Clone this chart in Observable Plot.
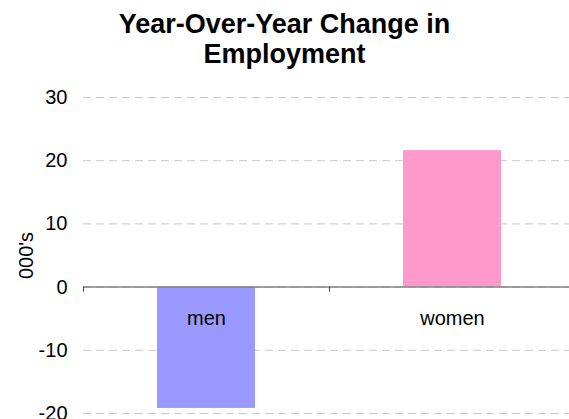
<!DOCTYPE html>
<html>
<head>
<meta charset="utf-8">
<script src="https://cdn.jsdelivr.net/npm/d3@7"></script>
<script src="https://cdn.jsdelivr.net/npm/@observablehq/plot@0.6"></script>
<style>
  html, body { margin: 0; padding: 0; background: #fff; overflow: hidden; width: 569px; height: 419px; }
  #title { width: 569px; text-align: center; font-family: "Liberation Sans", Arial, sans-serif; font-weight: bold; font-size: 27px; line-height: 30px; padding-top: 9px; color: #000; }
  #chart svg { display: block; max-width: none !important; }
</style>
</head>
<body>
<div id="title">Year-Over-Year Change in<br>Employment</div>
<div id="chart"></div>
<script>
const categories = ["men", "women"];
const values = [-19.2, 21.6];
const colors = ["#9999ff", "#ff99cc"];
const yTicks = [-20, -10, 0, 10, 20, 30];
const yLabel = "000's";

const data = categories.map((c, i) => ({category: c, value: values[i], color: colors[i]}));

const chart = Plot.plot({
  width: 575,
  height: 350,
  marginTop: 28,
  marginBottom: 6,
  marginLeft: 83,
  marginRight: 0,
  style: {fontFamily: "'Liberation Sans', Arial, sans-serif", fontSize: "20px", color: "#000", background: "#fff", maxWidth: "none"},
  x: {domain: categories, paddingInner: 0.6, paddingOuter: 0.3, axis: null},
  y: {domain: [-20, 30], ticks: yTicks},
  marks: [
    Plot.gridY(yTicks, {stroke: "#c8c8c8", strokeOpacity: 1, strokeDasharray: "8,5"}),
    Plot.barY(data, {x: "category", y: "value", fill: "color"}),
    Plot.ruleY([0], {stroke: "#7f7f7f", strokeWidth: 1.5}),
    Plot.ruleX(categories, {x: d => d, y1: 0, y2: -0.8, dx: -123, stroke: "#555", strokeWidth: 1.2}),
    Plot.text(categories, {x: d => d, y: 0, dy: 31, fontSize: 20, fill: "#000"}),
    Plot.axisY(yTicks, {tickSize: 0, tickPadding: 16, tickFormat: d => `${d}`, fontSize: 20, label: yLabel, labelAnchor: "center", labelOffset: 65, labelArrow: "none"})
  ]
});
document.getElementById("chart").appendChild(chart);
</script>
</body>
</html>
